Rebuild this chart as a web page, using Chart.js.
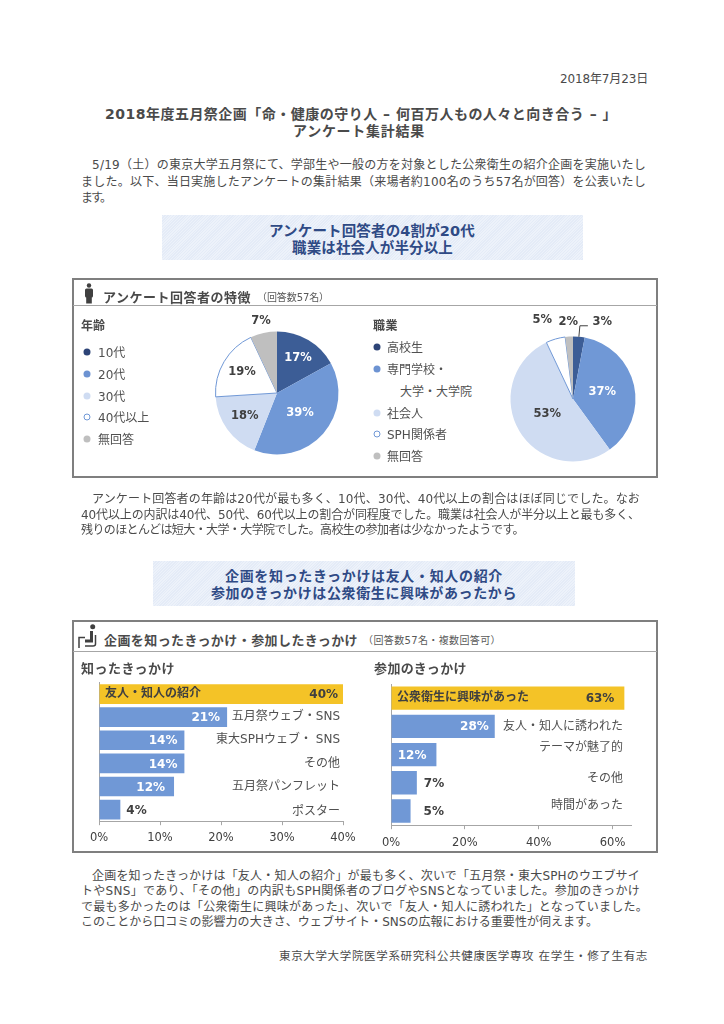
<!DOCTYPE html>
<html lang="ja">
<head>
<meta charset="utf-8">
<title>アンケート集計結果</title>
<script src="https://cdn.jsdelivr.net/npm/chart.js@4/dist/chart.umd.min.js"></script>
<style>
html,body{margin:0;padding:0;background:#fff;}
#page{position:relative;width:724px;height:1024px;overflow:hidden;font-family:"DejaVu Sans","Noto Sans CJK JP",sans-serif;color:#4a4a4a;}
.t{position:absolute;white-space:nowrap;line-height:1;transform:translateY(-50%);}
.panel{position:absolute;border:2px solid #7f7f7f;box-sizing:border-box;}
.rule{position:absolute;height:1px;background:#a6a6a6;}
.banner{position:absolute;background:repeating-linear-gradient(135deg,#e4ebf7 0 1px,#edf2fa 1px 2px);}
.dot{position:absolute;width:7px;height:7px;border-radius:50%;box-sizing:border-box;transform:translate(-50%,-50%);}
canvas{position:absolute;}
svg{position:absolute;}
</style>
</head>
<body>
<div id="page">
  <div class="banner" style="left:162px;top:215px;width:421px;height:45px"></div>
  <div class="banner" style="left:153px;top:561px;width:422px;height:45px"></div>
  <div class="panel" style="left:72px;top:278px;width:586px;height:200px"></div>
  <div class="rule" style="left:73px;top:305px;width:584px"></div>
  <div class="panel" style="left:72px;top:620px;width:586px;height:233px"></div>
  <div class="rule" style="left:73px;top:651px;width:584px"></div>
  <svg style="left:82px;top:283px" width="14" height="21" viewBox="0 0 14 21"><circle cx="7" cy="2.5" r="2.2" fill="#404040"/><rect x="3" y="5.5" width="8" height="9" rx="1.5" fill="#404040"/><rect x="4.2" y="13" width="5.6" height="7.5" fill="#404040"/></svg>
  <svg style="left:78px;top:624px" width="22" height="25" viewBox="0 0 22 25"><circle cx="14.7" cy="2.7" r="2.5" fill="#404040"/><path d="M1 24V13.5H7" fill="none" stroke="#404040" stroke-width="1.5"/><path d="M13.5 7V17H7" fill="none" stroke="#404040" stroke-width="3"/><path d="M17.5 11V20Q17.5 22 15 22H7" fill="none" stroke="#404040" stroke-width="1.5"/></svg>
  <canvas id="ageChart" width="180" height="180" style="left:187px;top:303px"></canvas>
  <canvas id="jobChart" width="190" height="190" style="left:478px;top:304px"></canvas>
  <canvas id="knowChart" width="290" height="182" style="left:72px;top:672px"></canvas>
  <canvas id="joinChart" width="285" height="185" style="left:372px;top:672px"></canvas>
</div>
<script>
const ageLabels = ['10代', '20代', '30代', '40代以上', '無回答'];
const ageValues = [17, 39, 18, 19, 7];
const jobLabels = ['高校生', '専門学校・', '社会人', 'SPH関係者', '無回答'];
const jobValues = [3, 37, 53, 5, 2];
const knowLabels = ['友人・知人の紹介', '五月祭ウェブ・SNS', '東大SPHウェブ・ SNS', 'その他', '五月祭パンフレット', 'ポスター'];
const knowValues = [40, 21, 14, 14, 12.3, 3.5];
const knowTicks = [0, 10, 20, 30, 40];
const joinLabels = ['公衆衛生に興味があった', '友人・知人に誘われた', 'テーマが魅了的', 'その他', '時間があった'];
const joinValues = [63.2, 28.1, 12.3, 7, 5.3];
const joinTicks = [0, 20, 40, 60];

const FONT = '"DejaVu Sans","Noto Sans CJK JP",sans-serif';
const DARK = '#404040';
const pieColors = ['#3c5d96', '#7098d6', '#cfdcf2', '#ffffff', '#bfbfbf'];
const dotColors = ['#2d4477', '#6d93d2', '#cfdcf2', '#ffffff', '#bfbfbf'];
const page = document.getElementById('page');

// text, left, right, y, size, bold, colour
const texts = [
  ['2018年7月23日', 560, 648, 78, 12],
  ['2018年度五月祭企画「命・健康の守り人 – 何百万人もの人々と向き合う – 」', 105, 617, 113, 14, 1],
  ['アンケート集計結果', 293, 425, 130, 14, 1],
  ['5/19（土）の東京大学五月祭にて、学部生や一般の方を対象とした公衆衛生の紹介企画を実施いたし', 92, 646, 164, 12],
  ['ました。以下、当日実施したアンケートの集計結果（来場者約100名のうち57名が回答）を公表いたし', 81, 646, 181, 12],
  ['ます。', 81, 110, 197, 12],
  ['アンケート回答者の4割が20代', 269, 475, 230, 14.5, 1, '#2f4a85'],
  ['職業は社会人が半分以上', 292, 453, 247, 14.5, 1, '#2f4a85'],
  ['アンケート回答者の特徴', 103, 251, 296, 13, 1],
  ['（回答数57名）', 257, 329, 297, 10, 0, '#595959'],
  ['年齢', 81, 105, 325, 12, 1],
  ['職業', 373, 398, 325, 12, 1],
  ['大学・大学院', 400, 472, 391, 12, 0, '#505050'],
  ['アンケート回答者の年齢は20代が最も多く、10代、30代、40代以上の割合はほぼ同じでした。なお', 92, 640, 498, 12],
  ['40代以上の内訳は40代、50代、60代以上の割合が同程度でした。職業は社会人が半分以上と最も多く、', 81, 640, 514, 12],
  ['残りのほとんどは短大・大学・大学院でした。高校生の参加者は少なかったようです。', 81, 524, 529, 12],
  ['企画を知ったきっかけは友人・知人の紹介', 225, 503, 575, 14, 1, '#2f4a85'],
  ['参加のきっかけは公衆衛生に興味があったから', 211, 517, 592, 14, 1, '#2f4a85'],
  ['企画を知ったきっかけ・参加したきっかけ', 104, 358, 639, 13, 1],
  ['（回答数57名・複数回答可）', 363, 501, 640, 10, 0, '#595959'],
  ['知ったきっかけ', 81, 175, 667, 13, 1],
  ['参加のきっかけ', 374, 467, 667, 13, 1],
  ['企画を知ったきっかけは「友人・知人の紹介」が最も多く、次いで「五月祭・東大SPHのウエブサイ', 92, 640, 875, 12],
  ['トやSNS」であり、「その他」の内訳もSPH関係者のブログやSNSとなっていました。参加のきっかけ', 81, 640, 890, 12],
  ['で最も多かったのは「公衆衛生に興味があった」、次いで「友人・知人に誘われた」となっていました。', 81, 648, 906, 12],
  ['このことから口コミの影響力の大きさ、ウェブサイト・SNSの広報における重要性が伺えます。', 81, 598, 921, 12],
  ['東京大学大学院医学系研究科公共健康医学専攻 在学生・修了生有志', 279, 648, 956, 11.5]
];

function addText(str, x0, x1, y, size, bold, color) {
  const el = document.createElement('div');
  el.className = 't';
  el.textContent = str;
  el.style.left = x0 + 'px';
  el.style.top = (y + 0.7) + 'px';
  el.style.fontSize = size + 'px';
  if (bold) el.style.fontWeight = 'bold';
  if (color) el.style.color = color;
  page.appendChild(el);
  if (x1) {
    // squeeze each line to the width it has in the flyer
    const w = el.getBoundingClientRect().width;
    el.style.letterSpacing = ((x1 - x0 - w) / str.length).toFixed(3) + 'px';
  }
}
texts.forEach(t => addText(t[0], t[1], t[2], t[3], t[4], t[5], t[6]));

function addLegend(labels, ys, dotX, textX) {
  labels.forEach((lab, i) => {
    const d = document.createElement('div');
    d.className = 'dot';
    d.style.left = dotX + 'px';
    d.style.top = ys[i] + 'px';
    d.style.background = dotColors[i];
    if (i === 3) d.style.border = '1px solid #7098d6';
    page.appendChild(d);
    addText(lab, textX, null, ys[i], 12, 0, '#505050');
  });
}
addLegend(ageLabels, [352, 374, 396, 417, 439], 87, 98);
addLegend(jobLabels, [347, 369, 413, 434, 456], 377, 387);

// percent labels on the pies, placed along each slice's middle angle
const pieLabelPlugin = {
  id: 'pieLabels',
  afterDatasetsDraw(chart, args, opts) {
    const c = chart.ctx;
    c.save();
    c.font = 'bold 11.5px ' + FONT;
    c.textAlign = 'center';
    c.textBaseline = 'middle';
    chart.getDatasetMeta(0).data.forEach((arc, i) => {
      const mid = (arc.startAngle + arc.endAngle) / 2;
      const r = arc.outerRadius * opts.radial[i];
      const off = opts.nudge[i] || 0;
      c.fillStyle = opts.colors[i];
      c.fillText(chart.data.datasets[0].data[i] + '%', arc.x + Math.cos(mid) * r + off, arc.y + Math.sin(mid) * r);
      if (opts.leader === i) {
        const lx = arc.x + Math.cos(mid) * arc.outerRadius;
        const ly = arc.y + Math.sin(mid) * arc.outerRadius;
        c.strokeStyle = DARK;
        c.lineWidth = 1;
        c.beginPath();
        c.moveTo(lx, ly);
        c.lineTo(lx + 1, ly - 11);
        c.lineTo(lx + 9, ly - 11);
        c.stroke();
      }
    });
    c.restore();
  }
};

function makePie(id, labels, values, pad, labelOpts) {
  return new Chart(document.getElementById(id), {
    type: 'pie',
    data: {
      labels: labels,
      datasets: [{
        data: values,
        backgroundColor: pieColors,
        borderColor: ['#3c5d96', '#7098d6', '#cfdcf2', '#7098d6', '#bfbfbf'],
        borderWidth: [0, 0, 0, 1, 0]
      }]
    },
    options: {
      responsive: false,
      animation: false,
      layout: { padding: pad },
      plugins: { legend: { display: false }, tooltip: { enabled: false }, pieLabels: labelOpts }
    },
    plugins: [pieLabelPlugin]
  });
}

makePie('ageChart', ageLabels, ageValues, 28, {
  radial: [0.67, 0.5, 0.65, 0.66, 1.2],
  nudge: [0, 0, 0, 0, 0],
  colors: ['#fff', '#fff', DARK, DARK, DARK]
});
makePie('jobChart', jobLabels, jobValues, 32, {
  radial: [1.23, 0.48, 0.48, 1.31, 1.23],
  nudge: [22, 0, 0, -8, 0],
  colors: [DARK, '#fff', DARK, DARK, DARK],
  leader: 0
});

// value and category labels on the bars
const barLabelPlugin = {
  id: 'barLabels',
  afterDatasetsDraw(chart, args, opts) {
    const c = chart.ctx;
    const values = chart.data.datasets[0].data;
    c.save();
    c.textBaseline = 'middle';
    chart.getDatasetMeta(0).data.forEach((bar, i) => {
      const pct = Math.round(values[i]) + '%';
      const short = values[i] < opts.outsideBelow;
      c.font = 'bold 12px ' + FONT;
      c.textAlign = short ? 'left' : 'right';
      c.fillStyle = i === 0 || short ? DARK : '#fff';
      c.fillText(pct, bar.x + opts.valueOffset[i], bar.y + 1);
      c.textAlign = i === 0 ? 'left' : 'right';
      c.font = (i === 0 ? 'bold ' : '') + '12px ' + FONT;
      c.fillStyle = i === 0 ? DARK : '#505050';
      const lx = i === 0 ? chart.chartArea.left + opts.firstInset : opts.labelRight;
      c.fillText(chart.data.labels[i], lx, bar.y + opts.labelOffset[i]);
    });
    c.restore();
  }
};

function makeBars(id, labels, values, ticks, maxV, pad, labelOpts, barPct) {
  return new Chart(document.getElementById(id), {
    type: 'bar',
    data: {
      labels: labels,
      datasets: [{
        data: values,
        backgroundColor: values.map((v, i) => i === 0 ? '#f4c327' : '#7098d6'),
        barPercentage: barPct,
        categoryPercentage: 1
      }]
    },
    options: {
      indexAxis: 'y',
      responsive: false,
      animation: false,
      layout: { padding: pad },
      scales: {
        x: {
          min: 0,
          max: maxV,
          afterBuildTicks: ax => { ax.ticks = ticks.map(v => ({ value: v })); },
          ticks: { callback: v => v + '%', color: DARK, font: { family: FONT, size: 11.5 }, maxRotation: 0, padding: labelOpts.tickPad },
          grid: { drawOnChartArea: false, color: '#a6a6a6', tickLength: 4 },
          border: { color: '#a6a6a6' }
        },
        y: {
          ticks: { display: false },
          grid: { display: false, drawTicks: false },
          border: { display: true, color: '#a6a6a6' }
        }
      },
      plugins: { legend: { display: false }, tooltip: { enabled: false }, barLabels: labelOpts }
    },
    plugins: [barLabelPlugin]
  });
}

makeBars('knowChart', knowLabels, knowValues, knowTicks, 40,
  { left: 27, right: 19, top: 10.5, bottom: 3 },
  {
    outsideBelow: 5,
    tickPad: 6,
    valueOffset: [-5, -7, -7, -7, -9, 6],
    labelOffset: [0, 0, 0, 0, 0, 2],
    labelRight: 268,
    firstInset: 6
  }, 0.85);
makeBars('joinChart', joinLabels, joinValues, joinTicks, 65,
  { left: 19, right: 26, top: 12, bottom: 0 },
  {
    outsideBelow: 10,
    tickPad: 7,
    valueOffset: [-10, -6, -10, 7, 13],
    labelOffset: [0, 1, -7, -4, -5],
    labelRight: 251,
    firstInset: 6
  }, 0.83);
</script>
</body>
</html>
